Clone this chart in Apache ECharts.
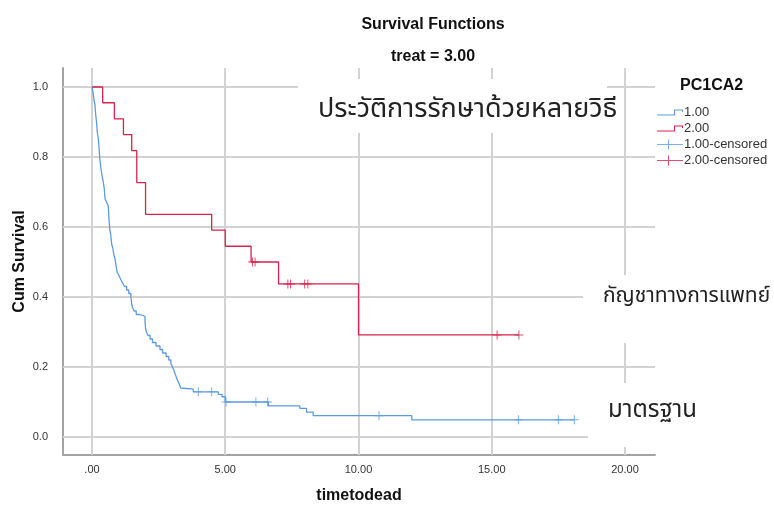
<!DOCTYPE html>
<html>
<head>
<meta charset="utf-8">
<script src="https://cdn.jsdelivr.net/npm/echarts@6/dist/echarts.min.js"></script>
<style>html,body{margin:0;padding:0;background:#fff}#c{width:774px;height:505px}</style>
</head>
<body>
<div id="c"></div>
<script>
// ---- data ----
const xTicks = [0, 5, 10, 15, 20];
const yTicks = [0, 0.2, 0.4, 0.6, 0.8, 1.0];

const blueTime = [0, 0.05, 0.08, 0.11, 0.14, 0.17, 0.20, 0.24, 0.27, 0.30, 0.33, 0.37, 0.42, 0.46, 0.49, 0.55, 0.61, 0.64, 0.67, 0.70, 0.74, 0.78, 0.82, 0.86, 0.90, 0.95, 1.02, 1.08, 1.15, 1.22, 1.30, 1.38, 1.46, 1.49, 1.52, 1.58, 1.66, 1.80, 1.99, 2.01, 2.04, 2.10, 2.18, 2.27, 2.40, 2.55, 2.65, 2.78, 2.88, 2.96, 3.02, 3.08, 3.12, 3.17, 3.22, 3.28, 3.33, 3.38, 3.80, 4.74, 4.88, 5.00, 6.62, 7.80, 8.05, 8.30, 12.00, 18.10];
const blueSurv = [1.000, 0.980, 0.960, 0.950, 0.920, 0.900, 0.870, 0.850, 0.820, 0.790, 0.770, 0.750, 0.730, 0.710, 0.680, 0.670, 0.660, 0.620, 0.590, 0.580, 0.550, 0.540, 0.520, 0.510, 0.490, 0.470, 0.460, 0.450, 0.440, 0.430, 0.420, 0.410, 0.400, 0.380, 0.370, 0.360, 0.350, 0.345, 0.330, 0.310, 0.300, 0.290, 0.280, 0.270, 0.260, 0.250, 0.240, 0.230, 0.220, 0.210, 0.200, 0.190, 0.180, 0.170, 0.160, 0.150, 0.140, 0.137, 0.129, 0.122, 0.115, 0.100, 0.089, 0.082, 0.071, 0.061, 0.049, 0.049];
const blueCensorTime = [3.99, 4.49, 5.03, 6.15, 6.59, 10.77, 16.00, 17.50, 18.10];
const blueCensorSurv = [0.129, 0.129, 0.100, 0.100, 0.100, 0.061, 0.049, 0.049, 0.049];

const redTime = [0, 0.40, 0.84, 1.18, 1.49, 1.68, 2.01, 4.49, 5.00, 5.97, 7.00, 10.00, 16.02];
const redSurv = [1.000, 0.955, 0.909, 0.864, 0.818, 0.727, 0.636, 0.591, 0.545, 0.500, 0.4375, 0.2917, 0.2917];
const redCensorTime = [6.02, 6.12, 7.35, 7.45, 7.98, 8.10, 15.20, 16.02];
const redCensorSurv = [0.500, 0.500, 0.4375, 0.4375, 0.4375, 0.4375, 0.2917, 0.2917];

const legendNames = ['1.00', '2.00', '1.00-censored', '2.00-censored'];

// ---- styling ----
const BLUE = '#5b9be6';
const RED = '#d8234c';
const GRID = '#d2d2d2';
const FONT = '"Liberation Sans", Arial, sans-serif';
const THAI = 'Tahoma, "Noto Sans Thai", "Noto Sans", "DejaVu Sans", sans-serif';
const PLUS = 'path://M4,0 L5,0 L5,4 L9,4 L9,5 L5,5 L5,9 L4,9 L4,5 L0,5 L0,4 L4,4 Z';
const STEP_ICON = 'path://M0,5 L17,5 L17,0 L26,0 L26,2.5 L25,2.5 L25,1 L18,1 L18,6 L0,6 Z';
const CENS_ICON = 'path://M0,4.5 L11,4.5 L11,0 L12,0 L12,4.5 L26,4.5 L26,5.5 L12,5.5 L12,10 L11,10 L11,5.5 L0,5.5 Z';

const zip = (a, b) => a.map((v, i) => [v, b[i]]);

const chart = echarts.init(document.getElementById('c'), null, {renderer: 'canvas'});
chart.setOption({
  animation: false,
  backgroundColor: '#fff',
  title: [
    {text: 'Survival Functions', left: 428, top: 12, textAlign: 'center',
     textStyle: {fontFamily: FONT, fontSize: 16, fontWeight: 'bold', color: '#111'}},
    {text: 'treat = 3.00', left: 428, top: 44, textAlign: 'center',
     textStyle: {fontFamily: FONT, fontSize: 16, fontWeight: 'bold', color: '#111'}},
    {text: 'PC1CA2', left: 675, top: 73,
     textStyle: {fontFamily: FONT, fontSize: 16, fontWeight: 'bold', color: '#111'}}
  ],
  grid: {left: 63, top: 68, right: 119, bottom: 50, containLabel: false, outerBoundsMode: 'none'},
  xAxis: {
    type: 'value', min: -1.088, max: 21.126,
    name: 'timetodead', nameLocation: 'middle', nameGap: 33,
    nameTextStyle: {fontFamily: FONT, fontSize: 16, fontWeight: 'bold', color: '#111'},
    axisLine: {show: true, onZero: false, lineStyle: {color: '#a3a3a3', width: 2}},
    axisTick: {show: false},
    splitLine: {show: false},
    axisLabel: {customValues: xTicks, fontFamily: FONT, fontSize: 11, color: '#333', margin: 9,
      formatter: v => v === 0 ? '.00' : v.toFixed(2)}
  },
  yAxis: {
    type: 'value', min: -0.0514, max: 1.0543,
    name: 'Cum Survival', nameLocation: 'middle', nameGap: 35, nameMoveOverlap: false,
    nameTextStyle: {fontFamily: FONT, fontSize: 16, fontWeight: 'bold', color: '#111'},
    axisLine: {show: true, onZero: false, lineStyle: {color: '#a3a3a3', width: 2}},
    axisTick: {show: false},
    splitLine: {show: false},
    axisLabel: {customValues: yTicks, fontFamily: FONT, fontSize: 11, color: '#333', margin: 15,
      formatter: v => v.toFixed(1)}
  },
  legend: {
    orient: 'vertical', left: 652, top: 101, itemWidth: 26, itemHeight: 10, itemGap: 3,
    symbolKeepAspect: true,
    textStyle: {fontFamily: FONT, fontSize: 13, color: '#333', padding: [0, 0, 0, -4]},
    data: [
      {name: legendNames[0], icon: STEP_ICON, itemStyle: {color: BLUE}},
      {name: legendNames[1], icon: STEP_ICON, itemStyle: {color: RED}},
      {name: legendNames[2], icon: CENS_ICON, itemStyle: {color: BLUE}},
      {name: legendNames[3], icon: CENS_ICON, itemStyle: {color: RED}}
    ]
  },
  series: [
    {
      name: 'grid', type: 'line', data: [], z: 1, silent: true,
      markLine: {
        z: 1, silent: true, symbol: ['none', 'none'], label: {show: false},
        lineStyle: {color: GRID, width: 2, type: 'solid'},
        data: xTicks.map(v => ({xAxis: v})).concat(yTicks.map(v => ({yAxis: v})))
      }
    },
    {name: legendNames[0], type: 'line', step: 'end', showSymbol: false, symbol: 'none', z: 6,
     lineStyle: {color: BLUE, width: 1.3}, itemStyle: {color: BLUE},
     data: zip(blueTime, blueSurv)},
    {name: legendNames[1], type: 'line', step: 'end', showSymbol: false, symbol: 'none', z: 6,
     lineStyle: {color: RED, width: 1.3}, itemStyle: {color: RED},
     data: zip(redTime, redSurv)},
    {name: legendNames[2], type: 'scatter', symbol: PLUS, symbolSize: 9, z: 7,
     itemStyle: {color: BLUE}, data: zip(blueCensorTime, blueCensorSurv)},
    {name: legendNames[3], type: 'scatter', symbol: PLUS, symbolSize: 9, z: 7,
     itemStyle: {color: RED}, data: zip(redCensorTime, redCensorSurv)}
  ],
  graphic: [
    {type: 'rect', z: 100, shape: {x: 298, y: 79, width: 309, height: 54}, style: {fill: '#fff'}},
    {type: 'rect', z: 100, shape: {x: 583, y: 275, width: 191, height: 68}, style: {fill: '#fff'}},
    {type: 'rect', z: 100, shape: {x: 588, y: 383, width: 186, height: 64}, style: {fill: '#fff'}},
    {type: 'text', z: 101, x: 318, y: 112,
     style: {text: 'ประวัติการรักษาด้วยหลายวิธี', fontFamily: THAI, fontSize: 27, fill: '#222', align: 'left', verticalAlign: 'middle'}},
    {type: 'text', z: 101, x: 603, y: 298,
     style: {text: 'กัญชาทางการแพทย์', fontFamily: THAI, fontSize: 21, fill: '#222', align: 'left', verticalAlign: 'middle'}},
    {type: 'text', z: 101, x: 608, y: 412,
     style: {text: 'มาตรฐาน', fontFamily: THAI, fontSize: 24, fill: '#222', align: 'left', verticalAlign: 'middle'}}
  ]
});
</script>
</body>
</html>
